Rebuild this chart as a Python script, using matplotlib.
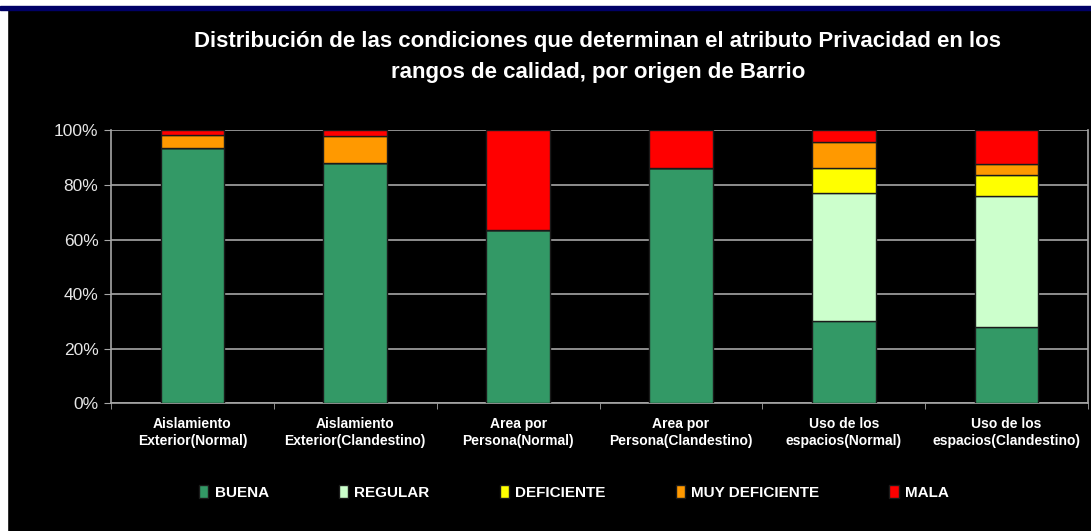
import matplotlib.pyplot as plt
import numpy as np
from matplotlib.patches import Rectangle

categorias = ['Aislamiento\nExterior(Normal)', 'Aislamiento\nExterior(Clandestino)',
              'Area por\nPersona(Normal)', 'Area por\nPersona(Clandestino)',
              'Uso de los\nespacios(Normal)', 'Uso de los\nespacios(Clandestino)']
buena = [93.4, 87.9, 63.6, 86.1, 30.0, 28.1]
regular = [0.0, 0.0, 0.0, 0.0, 46.9, 47.9]
deficiente = [0.0, 0.0, 0.0, 0.0, 9.2, 7.6]
muy_deficiente = [4.9, 10.1, 0.0, 0.0, 9.6, 4.2]
mala = [1.7, 2.0, 36.4, 13.9, 4.3, 12.2]
series = ['BUENA', 'REGULAR', 'DEFICIENTE', 'MUY DEFICIENTE', 'MALA']
colores = ['#339966', '#CCFFCC', '#FFFF00', '#FF9900', '#FF0000']
titulo = 'Distribución de las condiciones que determinan el atributo Privacidad en los\nrangos de calidad, por origen de Barrio'

bold_font = ['Liberation Sans', 'DejaVu Sans']
fig = plt.figure(figsize=(10.91, 5.31), dpi=100)
fig.patch.set_facecolor('black')
# white strips and navy band like the slide frame
fig.add_artist(Rectangle((0, 0), 7/1091, 1, transform=fig.transFigure, color='white', zorder=0))
fig.add_artist(Rectangle((0, 1-6/531), 1, 6/531, transform=fig.transFigure, color='white', zorder=0))
fig.add_artist(Rectangle((0, 1-10/531), 1, 4/531, transform=fig.transFigure, color='#000066', zorder=0))

ax = fig.add_axes([0.1017, 0.2405, 0.8956, 0.5141])
ax.set_facecolor('black')
x = np.arange(len(categorias))
bottom = np.zeros(len(categorias))
for nombre, vals, c in zip(series, [buena, regular, deficiente, muy_deficiente, mala], colores):
    vals = np.array(vals)
    ax.bar(x, vals, 0.39, bottom=bottom, color=c, edgecolor='#1a1a1a', linewidth=1.0, label=nombre, zorder=3)
    bottom += vals

ax.set_xlim(-0.5, len(categorias) - 0.5)
ax.set_ylim(0, 100)
ax.set_yticks(np.arange(0, 101, 20))
ax.set_yticklabels([f'{v}%' for v in range(0, 101, 20)], color='#e6e6e6', fontsize=12.5,
                   family=['Liberation Sans', 'DejaVu Sans'])
ax.set_xticks(np.arange(-0.5, len(categorias), 1.0), minor=True)
ax.set_xticks(x)
ax.set_xticklabels(categorias, color='white', fontsize=10, fontweight='bold', family=bold_font, linespacing=1.3)
ax.tick_params(axis='x', which='major', length=0, pad=10)
ax.tick_params(axis='x', which='minor', length=4, color='#a6a6a6', direction='out')
ax.tick_params(axis='y', length=5, color='#a6a6a6', pad=4)
ax.grid(axis='y', color='#a6a6a6', linewidth=1.2, zorder=1)
for s in ['left', 'bottom', 'right']:
    ax.spines[s].set_color('#a6a6a6')
    ax.spines[s].set_linewidth(1.2)
ax.spines['top'].set_visible(False)

fig.text(0.548, 0.893, titulo, ha='center', va='center', color='white', fontsize=16,
         fontweight='bold', family=bold_font, linespacing=1.65)

handles, labels = ax.get_legend_handles_labels()
leg = fig.legend(handles, labels, loc='center', bbox_to_anchor=(0.526, 0.073), ncol=5, frameon=False,
                 handlelength=0.6, handleheight=0.9, handletextpad=0.4, columnspacing=4.6,
                 prop={'family': bold_font, 'weight': 'bold', 'size': 11})
for t in leg.get_texts():
    t.set_color('white')

fig.savefig('out.png', dpi=100, facecolor=fig.get_facecolor())
